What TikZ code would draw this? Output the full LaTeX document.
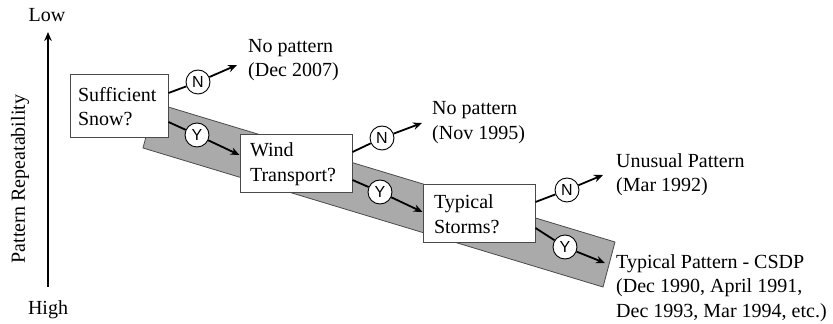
\documentclass[tikz,border=0pt]{standalone}
\usepackage{fontspec}
\setmainfont{Liberation Serif}
\newfontfamily\serifmain{Liberation Serif}
\newfontfamily\ynfont{Liberation Sans}
\usepackage{tikz}
\usetikzlibrary{arrows.meta, positioning, calc}
\definecolor{bandgray}{HTML}{AAAAAA}
\definecolor{edgegray}{HTML}{4A4A4A}

\tikzset{
    qbox/.style={draw=edgegray, line width=1pt, fill=white, align=left, inner ysep=0pt, font=\serifmain\fontsize{20}{24.5}\selectfont},
    yn/.style={circle, draw=black, line width=0.9pt, fill=white, minimum size=24pt, inner sep=0pt, font=\ynfont\fontsize{16}{16}\selectfont},
    outtext/.style={anchor=west, align=left, inner sep=0pt, font=\serifmain\fontsize{20}{24.5}\selectfont},
    link/.style={line width=1.8pt},
    flow/.style={line width=1.8pt, -{Stealth[length=9pt, width=7.5pt]}},
}

\begin{document}
\begin{tikzpicture}[x=1pt, y=1pt, font=\serifmain\fontsize{20}{24.5}\selectfont]
    \useasboundingbox (0, 0) rectangle (833, 324);

    % Axis
    \node (low) at (47, 309) {Low};
    \node (high) at (48, 14) {High};
    \draw[-{Stealth[length=9pt, width=7.5pt]}, line width=1.8pt] (48, 37) -- (48, 292);
    \node[rotate=90] (axlabel) at (20, 145) {Pattern Repeatability};

    % Shaded band
    \draw[fill=bandgray, draw=edgegray, line width=0.8pt] (155, 221) -- (615, 82) -- (603, 37) -- (143, 176) -- cycle;

    % Questions
    \node[qbox, inner xsep=8pt, text width=82pt, minimum height=63pt] (snow) at (119, 217.5) {Sufficient\\Snow?};
    \node[qbox, inner xsep=10pt, text width=92pt, minimum height=58pt] (wind) at (296, 160) {Wind\\Transport?};
    \node[qbox, inner xsep=11pt, text width=90pt, minimum height=58pt] (storms) at (479, 110) {Typical\\Storms?};

    % Outcomes
    \node[outtext] (out1) at (248, 264) {No pattern\\(Dec 2007)};
    \node[outtext] (out2) at (432, 201.5) {No pattern\\(Nov 1995)};
    \node[outtext] (out3) at (616, 149.5) {Unusual Pattern\\(Mar 1992)};
    \node[outtext] (out4) at (616, 36) {Typical Pattern - CSDP\\(Dec 1990, April 1991,\\Dec 1993, Mar 1994, etc.)};

    % Arrow ends
    \coordinate (tip1) at (237, 259);
    \coordinate (tip2) at (422, 201);
    \coordinate (tip3) at (603, 149);
    \coordinate (tip4) at (605, 61);

    % Yes / No circles
    \foreach \nm/\x/\y/\t in {no1/198/242/N, yes1/197/189/Y, no2/382/186/N, yes2/380/132/Y, no3/567/134/N, yes3/565/77/Y}{
        \node[yn] (\nm) at (\x, \y) {\t};
    }

    % No branches
    \draw[link] ([yshift=13.5pt]snow.east) -- (no1);
    \draw[flow] (no1) -- (tip1);
    \draw[link] ([yshift=12pt]wind.east) -- (no2);
    \draw[flow] (no2) -- (tip2);
    \draw[link] ([yshift=12pt]storms.east) -- (no3);
    \draw[flow] (no3) -- (tip3);

    % Yes branches
    \draw[link] ([yshift=-15.5pt]snow.east) -- (yes1);
    \draw[flow] (yes1) -- ([yshift=9pt]wind.west);
    \draw[link] ([yshift=-16pt]wind.east) -- (yes2);
    \draw[flow] (yes2) -- ([yshift=2pt]storms.west);
    \draw[link] ([yshift=-14pt]storms.east) -- (yes3);
    \draw[flow] (yes3) -- (tip4);
\end{tikzpicture}
\end{document}
